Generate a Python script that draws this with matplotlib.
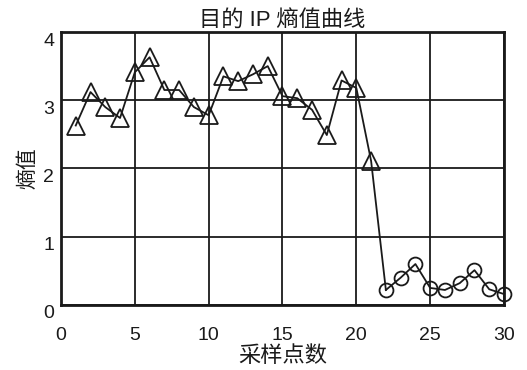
import numpy as np
import matplotlib.pyplot as plt
from matplotlib.transforms import offset_copy

plt.rcParams['font.family'] = ['Liberation Sans', 'Noto Sans CJK SC', 'DejaVu Sans']

# entropy of destination IP per sample point
x_tri = list(range(1, 22))
y_tri = [2.63, 3.12, 2.90, 2.74, 3.41, 3.63, 3.15, 3.15, 2.90, 2.78,
         3.35, 3.28, 3.38, 3.50, 3.06, 3.03, 2.86, 2.49, 3.29, 3.18, 2.11]
x_circ = list(range(22, 31))
y_circ = [0.22, 0.40, 0.60, 0.25, 0.22, 0.32, 0.51, 0.23, 0.16]

xticks = [0, 5, 10, 15, 20, 25, 30]
yticks = [0, 1, 2, 3, 4]

fig = plt.figure(figsize=(5.27, 3.70), dpi=100)
ax = fig.add_axes([0.1157, 0.1757, 0.9564 - 0.1157, 0.9135 - 0.1757])

# the triangle segment runs into the first circle point
ax.plot(x_tri + [x_circ[0]], y_tri + [y_circ[0]], color='#1a1a1a', lw=1.3, zorder=3)
ax.plot(x_tri, y_tri, ls='none', marker='^', ms=13, mfc='none',
        mec='#1a1a1a', mew=1.3, zorder=4, clip_on=False)
ax.plot(x_circ, y_circ, color='#1a1a1a', lw=1.3, marker='o', ms=10,
        mfc='none', mec='#1a1a1a', mew=1.3, zorder=4, clip_on=False)

ax.set_xlim(0, 30)
ax.set_ylim(0, 4)
ax.set_xticks(xticks)
ax.set_yticks(yticks)
ax.grid(True, color='#1a1a1a', lw=1.3)
ax.tick_params(length=0, labelsize=14, colors='#1a1a1a')
ax.tick_params(axis='x', pad=16)
ax.tick_params(axis='y', pad=5)
for s in ax.spines.values():
    s.set_linewidth(2)
    s.set_color('#1a1a1a')

# y labels sit a little below their grid lines
for lab in ax.get_yticklabels():
    lab.set_transform(offset_copy(lab.get_transform(), fig=fig, y=-9, units='dots'))
    lab.set_va('center')

ax.set_title('目的 IP 熵值曲线', fontsize=16, pad=0, color='#1a1a1a')
ax.set_xlabel('采样点数', fontsize=16, labelpad=1, color='#1a1a1a')
ax.set_ylabel('熵值', fontsize=15, labelpad=4, color='#1a1a1a')

fig.savefig('out.png', dpi=100)
